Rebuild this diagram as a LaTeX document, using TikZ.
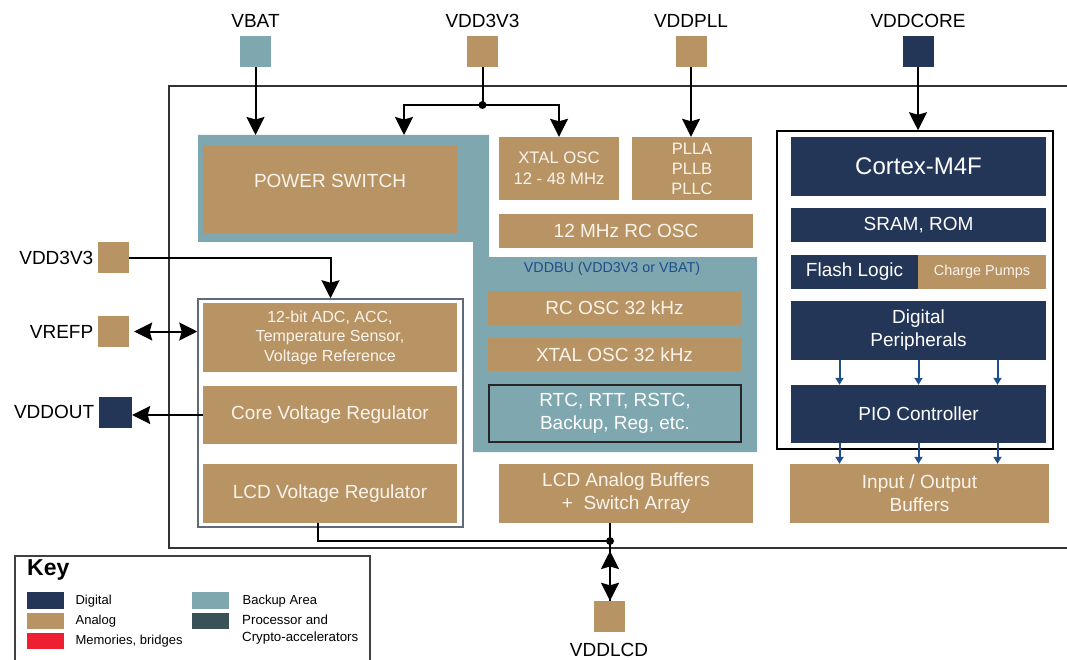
\documentclass[tikz,border=0pt]{standalone}
\usepackage{fontspec}
\setmainfont{Liberation Sans}
\usepackage{tikz}
\usetikzlibrary{arrows.meta,%
		calc,%
		positioning}

\definecolor{bkteal}{RGB}{127,167,176}
\definecolor{antan}{RGB}{184,148,101}
\definecolor{dgnavy}{RGB}{35,54,87}
\definecolor{memred}{RGB}{237,31,48}
\definecolor{procgrey}{RGB}{58,82,87}
\definecolor{pioblue}{RGB}{31,78,140}
\definecolor{boxtext}{RGB}{250,244,236}
\definecolor{frmgrey}{RGB}{95,107,119}

\begin{document}
\begin{tikzpicture}[x=1pt,y=-1pt,font=\fontsize{19}{23}\selectfont,
  anbox/.style={fill=antan,text=boxtext,inner sep=0pt,align=center},
  dgbox/.style={fill=dgnavy,text=white,inner sep=0pt,align=center},
  padsq/.style={minimum width=31pt,minimum height=31pt,inner sep=0pt},
  pinlbl/.style={font=\fontsize{19}{22}\selectfont},
  wire/.style={line width=2pt},
  arr/.style={line width=2pt,-{Stealth[length=18pt,width=18pt,inset=2.5pt]}},
  dblarr/.style={line width=2pt,{Stealth[length=18pt,width=18pt,inset=2.5pt]}-{Stealth[length=18pt,width=18pt,inset=2.5pt]}},
  tinyarr/.style={pioblue,line width=2pt,-{Triangle[length=7pt,width=8pt]}},
  keytxt/.style={font=\fontsize{13}{17}\selectfont,inner sep=0pt},
  swatch/.style={minimum width=37pt,minimum height=17pt,inner sep=0pt,anchor=north west}]

  \useasboundingbox (0,0) rectangle (1067,660);

  % chip outline and backup area
  \draw[line width=2pt,black!80] (1067,86) -- (169,86) -- (169,548) -- (1067,548);
  \fill[bkteal] (198,135) -- (489,135) -- (489,257) -- (757,257) -- (757,452)
    -- (473,452) -- (473,242) -- (198,242) -- cycle;

  % supply pins
  \node[padsq,fill=bkteal,label={[pinlbl,name=lVBAT,label distance=5pt]above:VBAT}] (pVBAT) at (255.5,51.5) {};
  \node[padsq,fill=antan,label={[pinlbl,name=lVDDa,label distance=5pt]above:VDD3V3}] (pVDDa) at (482.5,51.5) {};
  \node[padsq,fill=antan,label={[pinlbl,name=lVDDPLL,label distance=5pt]above:VDDPLL}] (pVDDPLL) at (691,51.5) {};
  \node[padsq,fill=dgnavy,label={[pinlbl,name=lVDDCORE,label distance=5pt]above:VDDCORE}] (pVDDCORE) at (918,51.5) {};
  \node[padsq,fill=antan,label={[pinlbl,name=lVDDb,label distance=1pt]left:VDD3V3}] (pVDDb) at (113.5,257.5) {};
  \node[padsq,fill=antan,label={[pinlbl,name=lVREFP,label distance=1pt]left:VREFP}] (pVREFP) at (113.5,331.5) {};
  \node[padsq,fill=dgnavy,minimum width=33pt,label={[pinlbl,name=lVDDOUT,label distance=1pt]left:VDDOUT}] (pVDDOUT) at (115.5,412) {};
  \node[padsq,fill=antan,label={[pinlbl,name=lVDDLCD,label distance=7pt]below:VDDLCD}] (pVDDLCD) at (609,616.5) {};

  % backup area / clocks
  \node[anbox,minimum width=254pt,minimum height=88pt,text depth=16pt] (psw) at (330,189) {POWER SWITCH};
  \node[anbox,minimum width=120pt,minimum height=63pt,font=\fontsize{16.7}{21}\selectfont] (xtal) at (559,168.5) {XTAL OSC\\12 - 48 MHz};
  \node[anbox,minimum width=120pt,minimum height=63pt,font=\fontsize{16.5}{20}\selectfont] (pll) at (692,168.5) {PLLA\\PLLB\\PLLC};
  \node[anbox,minimum width=254pt,minimum height=34pt] (rcfast) at (626,231) {12 MHz RC OSC};
  \node[text=pioblue,font=\fontsize{14.3}{16}\selectfont] (vddbu) at (612,269) {VDDBU (VDD3V3 or VBAT)};
  \node[anbox,minimum width=253pt,minimum height=34pt] (rcslow) at (614.5,308) {RC OSC 32 kHz};
  \node[anbox,minimum width=253pt,minimum height=33pt] (xtslow) at (614.5,354.5) {XTAL OSC 32 kHz};
  \node[fill=bkteal,draw=black!85,line width=2pt,text=white,align=center,inner sep=0pt,
    minimum width=252pt,minimum height=57pt] (rtc) at (615,413.5) {RTC, RTT, RSTC,\\Backup, Reg, etc.};
  \node[anbox,minimum width=254pt,minimum height=59pt] (lcdbuf) at (626,493.5) {LCD Analog Buffers\\+\ \ Switch Array};

  % analog block
  \node[draw=frmgrey,line width=1.5pt,fill=white,minimum width=265pt,minimum height=228pt] (anafrm) at (330.5,413) {};
  \node[anbox,minimum width=254pt,minimum height=69pt,font=\fontsize{16}{19.5}\selectfont] (adc) at (330,337.5) {12-bit ADC, ACC,\\Temperature Sensor,\\Voltage Reference};
  \node[anbox,minimum width=254pt,minimum height=58pt] (corevr) at (330,415) {Core Voltage Regulator};
  \node[anbox,minimum width=254pt,minimum height=59pt] (lcdvr) at (330,493.5) {LCD Voltage Regulator};

  % core block
  \node[draw=black,line width=1.5pt,minimum width=276pt,minimum height=318pt] (cpufrm) at (915,290) {};
  \node[dgbox,minimum width=255pt,minimum height=59pt,font=\fontsize{24}{28}\selectfont] (cortex) at (918.5,166.5) {Cortex-M4F};
  \node[dgbox,minimum width=255pt,minimum height=34pt] (sram) at (918.5,225) {SRAM, ROM};
  \node[dgbox,minimum width=127pt,minimum height=34pt] (flash) at (854.5,272) {Flash Logic};
  \node[anbox,minimum width=128pt,minimum height=34pt,font=\fontsize{14.4}{17}\selectfont] (pumps) at (982,272) {Charge Pumps};
  \node[dgbox,minimum width=255pt,minimum height=59pt] (digper) at (918.5,330.5) {Digital\\Peripherals};
  \node[dgbox,minimum width=255pt,minimum height=58pt] (pio) at (918.5,414) {PIO Controller};
  \node[anbox,minimum width=259pt,minimum height=59pt] (iobuf) at (919.5,493.5) {Input / Output\\Buffers};

  % connections
  \coordinate (bkTop) at (0,135);
  \coordinate (pswIn) at (404,135);
  \coordinate (jTop) at (482.5,105);
  \coordinate (jLcd) at (610,541);

  \draw[arr] (pVBAT.south) -- (pVBAT.south |- bkTop);
  \draw[wire] (pVDDa.south) -- (jTop);
  \draw[arr] (jTop) -| (pswIn);
  \draw[arr] (jTop) -| (xtal.north);
  \fill (jTop) circle (4pt);
  \draw[arr] (pVDDPLL.south) -- (pVDDPLL.south |- pll.north);
  \draw[arr] (pVDDCORE.south) -- (pVDDCORE.south |- cpufrm.north);
  \draw[arr] (pVDDb.east) -| (anafrm.north);
  \draw[dblarr,shorten <=5pt] (pVREFP.east) -- (pVREFP.east -| anafrm.west);
  \draw[arr] (corevr.west) -- (corevr.west -| pVDDOUT.east);
  \draw[wire] ([xshift=-12pt]lcdvr.south) |- (jLcd);
  \draw[wire] (lcdbuf.south -| jLcd) -- (jLcd);
  \draw[wire] (jLcd) -- (jLcd |- pVDDLCD.north);
  \draw[dblarr,shorten <=10pt] (jLcd) -- (jLcd |- pVDDLCD.north);
  \fill (jLcd) circle (4pt);

  \foreach \dx in {-79,0,79}{
    \draw[tinyarr] ([xshift=\dx pt]digper.south) -- ([xshift=\dx pt]pio.north);
    \draw[tinyarr] ([xshift=\dx pt]pio.south) -- ([xshift=\dx pt]pio.south |- iobuf.north);
  }

  % key
  \draw[line width=1.5pt,black!75] (15,665) -- (15,556) -- (370,556) -- (370,665);
  \node[font=\fontsize{23}{26}\selectfont\bfseries,anchor=west,inner sep=0pt] (keyttl) at (27,570) {Key};
  \node[swatch,fill=dgnavy,label={[keytxt,name=kDigT,label distance=11pt]right:Digital}] (kDig) at (27,592) {};
  \node[swatch,fill=antan,minimum height=16pt,label={[keytxt,name=kAnaT,label distance=11pt]right:Analog}] (kAna) at (27,613) {};
  \node[swatch,fill=memred,minimum height=16pt,label={[keytxt,name=kMemT,label distance=11pt]right:Memories, bridges}] (kMem) at (27,633) {};
  \node[swatch,fill=bkteal,label={[keytxt,name=kBakT,label distance=13pt]right:Backup Area}] (kBak) at (192,592) {};
  \node[swatch,fill=procgrey,minimum height=16pt] (kProc) at (192,613) {};
  \node[keytxt,align=left,anchor=north west,font=\fontsize{13.3}{17}\selectfont] (kProcT) at (242,615) {Processor and\\Crypto-accelerators};

\end{tikzpicture}
\end{document}
